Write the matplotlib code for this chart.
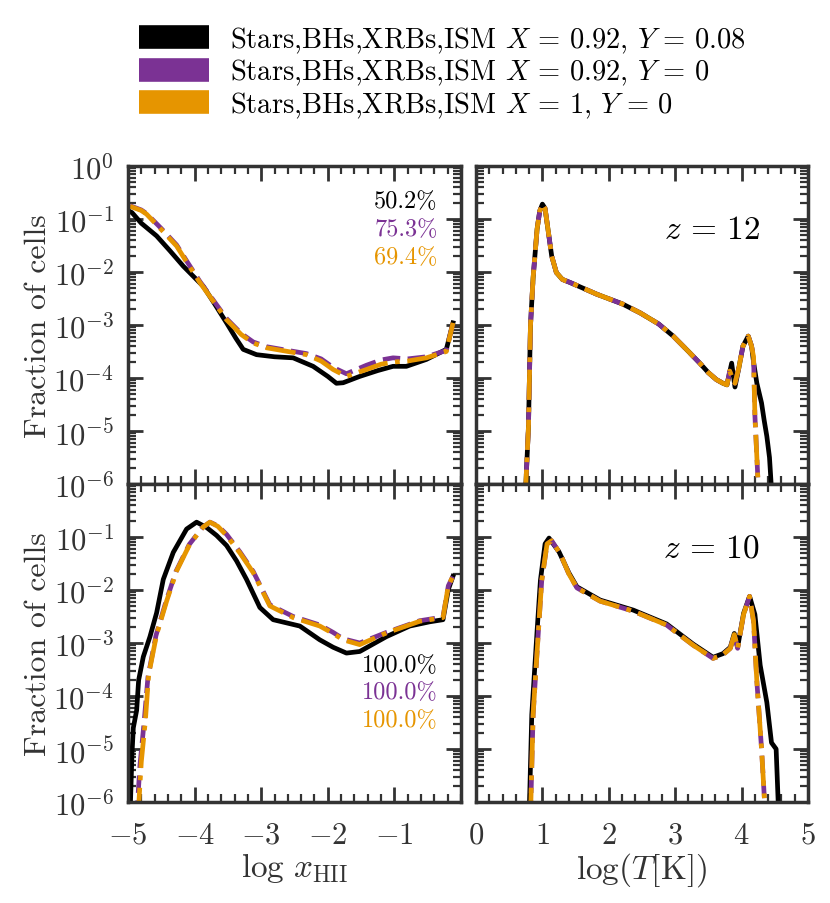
import numpy as np
import matplotlib
matplotlib.use('Agg')
import matplotlib.pyplot as plt
from matplotlib.lines import Line2D
from matplotlib.ticker import FixedLocator, MultipleLocator, LogLocator, FuncFormatter, NullFormatter

plt.rcParams['font.family'] = 'serif'
plt.rcParams['font.serif'] = ['cmr10']
plt.rcParams['mathtext.fontset'] = 'cm'
plt.rcParams['axes.unicode_minus'] = False

labels = [r'Stars,BHs,XRBs,ISM $X\,=\,0.92$, $Y\,=\,0.08$',
          r'Stars,BHs,XRBs,ISM $X\,=\,0.92$, $Y\,=\,0$',
          r'Stars,BHs,XRBs,ISM $X\,=\,1$, $Y\,=\,0$']
colors = ['black', '#7b3294', '#e69500']
styles = ['-', '--', '-.']

# log10(fraction of cells)
# z = 12, x_HII
x12_blk = [-4.97, -4.94, -4.80, -4.57, -4.37, -4.17, -3.87, -3.70, -3.52, -3.38, -3.27, -3.07, -2.80,
           -2.52, -2.22, -2.00, -1.87, -1.77, -1.52, -1.25, -1.02, -0.82, -0.52, -0.22, -0.12]
f12_blk = [-0.86, -0.88, -1.08, -1.32, -1.60, -1.89, -2.27, -2.60, -2.96, -3.25, -3.46, -3.56, -3.60,
           -3.62, -3.78, -3.97, -4.10, -4.09, -3.97, -3.86, -3.78, -3.78, -3.65, -3.46, -2.96]
x12_pur = [-4.97, -4.80, -4.72, -4.50, -4.27, -4.10, -3.92, -3.72, -3.52, -3.30, -3.12, -2.92, -2.60,
           -2.32, -2.10, -1.92, -1.72, -1.42, -1.20, -1.02, -0.80, -0.52, -0.22, -0.12]
f12_pur = [-0.75, -0.83, -0.90, -1.18, -1.49, -1.83, -2.18, -2.53, -2.88, -3.16, -3.32, -3.41, -3.48,
           -3.54, -3.64, -3.80, -3.92, -3.76, -3.66, -3.62, -3.64, -3.60, -3.48, -2.96]
x12_ora = [-4.97, -4.80, -4.72, -4.50, -4.27, -4.10, -3.92, -3.72, -3.52, -3.30, -3.12, -2.92, -2.60,
           -2.32, -2.10, -1.92, -1.72, -1.42, -1.20, -1.02, -0.80, -0.52, -0.22, -0.12]
f12_ora = [-0.76, -0.84, -0.91, -1.20, -1.51, -1.85, -2.20, -2.55, -2.90, -3.18, -3.34, -3.43, -3.50,
           -3.56, -3.68, -3.84, -3.97, -3.84, -3.74, -3.70, -3.68, -3.62, -3.50, -2.96]

# z = 10, x_HII
x10_blk = [-4.97, -4.94, -4.92, -4.87, -4.84, -4.77, -4.67, -4.57, -4.47, -4.32, -4.12, -3.97, -3.82,
           -3.67, -3.52, -3.37, -3.22, -3.02, -2.82, -2.62, -2.42, -2.12, -1.92, -1.72, -1.52, -1.32,
           -1.12, -0.77, -0.47, -0.27, -0.19, -0.12]
f10_blk = [-6.30, -5.10, -4.60, -4.27, -3.70, -3.26, -2.88, -2.43, -1.80, -1.29, -0.85, -0.72, -0.82,
           -0.97, -1.16, -1.45, -1.80, -2.33, -2.56, -2.62, -2.68, -2.94, -3.08, -3.19, -3.16, -3.02,
           -2.88, -2.68, -2.60, -2.56, -1.99, -1.74]
x10_pur = [-4.87, -4.82, -4.76, -4.70, -4.58, -4.43, -4.28, -4.08, -3.88, -3.77, -3.65, -3.52, -3.32,
           -3.12, -2.87, -2.52, -2.12, -1.92, -1.77, -1.52, -1.32, -1.12, -0.62, -0.27, -0.19, -0.12]
f10_pur = [-6.30, -5.30, -4.52, -3.64, -2.86, -2.22, -1.65, -1.14, -0.82, -0.72, -0.79, -0.95, -1.28,
           -1.65, -2.28, -2.50, -2.66, -2.80, -2.92, -3.00, -2.90, -2.80, -2.58, -2.51, -1.92, -1.74]
x10_ora = [-4.85, -4.80, -4.74, -4.69, -4.57, -4.42, -4.27, -4.07, -3.87, -3.77, -3.65, -3.52, -3.32,
           -3.12, -2.87, -2.52, -2.12, -1.92, -1.77, -1.52, -1.32, -1.12, -0.62, -0.27, -0.19, -0.12]
f10_ora = [-6.30, -5.24, -4.48, -3.60, -2.84, -2.21, -1.64, -1.13, -0.81, -0.72, -0.80, -0.97, -1.30,
           -1.67, -2.30, -2.52, -2.68, -2.82, -2.94, -3.03, -2.92, -2.81, -2.59, -2.52, -1.92, -1.74]

# z = 12, log T
t12_col = [0.74, 0.79, 0.82, 0.86, 0.92, 0.96, 1.00, 1.04, 1.07, 1.14, 1.21, 1.30, 1.42, 1.82, 2.20,
           2.47, 2.75, 2.97, 3.20, 3.37, 3.50, 3.62, 3.72, 3.78, 3.82, 3.86, 3.90, 3.96, 4.02, 4.10,
           4.15, 4.18, 4.20, 4.23, 4.26]
g12_col = [-6.30, -4.92, -3.02, -2.11, -1.19, -0.85, -0.72, -0.80, -1.07, -1.70, -2.01, -2.14, -2.20,
           -2.42, -2.60, -2.77, -2.98, -3.21, -3.50, -3.72, -3.90, -4.03, -4.10, -4.13, -3.87, -4.00,
           -4.10, -3.80, -3.40, -3.21, -3.40, -3.60, -4.70, -5.50, -6.30]
t12_blk = [0.74, 0.79, 0.82, 0.86, 0.92, 0.96, 1.00, 1.04, 1.07, 1.14, 1.21, 1.30, 1.42, 1.82, 2.20,
           2.47, 2.75, 2.97, 3.20, 3.37, 3.50, 3.62, 3.72, 3.78, 3.85, 3.90, 3.96, 4.02, 4.10, 4.15,
           4.18, 4.23, 4.30, 4.34, 4.38, 4.42, 4.46]
g12_blk = [-6.30, -4.92, -3.02, -2.11, -1.19, -0.85, -0.72, -0.80, -1.07, -1.70, -2.01, -2.14, -2.20,
           -2.42, -2.60, -2.77, -2.98, -3.21, -3.50, -3.72, -3.90, -4.03, -4.10, -4.13, -3.72, -4.17,
           -3.80, -3.40, -3.21, -3.40, -3.70, -4.10, -4.47, -4.80, -5.10, -5.50, -6.30]

# z = 10, log T
t10_col = [0.82, 0.86, 0.94, 0.99, 1.07, 1.14, 1.27, 1.40, 1.52, 1.87, 2.37, 2.87, 3.27, 3.57, 3.72,
           3.83, 3.89, 3.94, 4.03, 4.12, 4.18, 4.23, 4.30, 4.36]
g10_col = [-6.30, -4.35, -2.77, -1.82, -1.13, -1.07, -1.32, -1.70, -1.96, -2.21, -2.40, -2.66, -3.04,
           -3.29, -3.22, -3.10, -2.84, -3.10, -2.46, -2.12, -2.59, -3.73, -4.99, -6.30]
t10_blk = [0.80, 0.84, 0.92, 0.97, 1.04, 1.10, 1.25, 1.40, 1.52, 1.87, 2.37, 2.87, 3.27, 3.57, 3.72,
           3.83, 3.89, 3.94, 4.03, 4.12, 4.20, 4.28, 4.38, 4.45, 4.52, 4.56]
g10_blk = [-6.30, -4.35, -2.77, -1.82, -1.13, -1.02, -1.28, -1.68, -1.94, -2.19, -2.38, -2.64, -3.02,
           -3.27, -3.20, -3.08, -2.82, -3.08, -2.44, -2.12, -2.46, -3.42, -4.12, -4.88, -5.00, -6.30]

pct12 = ['50.2%', '75.3%', '69.4%']
pct10 = ['100.0%', '100.0%', '100.0%']

grey = '#333333'

fig = plt.figure(figsize=(8.3, 9.04), dpi=100)
axes = {
    'tl': fig.add_axes((0.1542, 0.4635, 0.4012, 0.3518)),
    'tr': fig.add_axes((0.5735, 0.4635, 0.4000, 0.3518)),
    'bl': fig.add_axes((0.1542, 0.1117, 0.4012, 0.3518)),
    'br': fig.add_axes((0.5735, 0.1117, 0.4000, 0.3518)),
}

curves = {
    'tl': [(x12_blk, f12_blk), (x12_pur, f12_pur), (x12_ora, f12_ora)],
    'bl': [(x10_blk, f10_blk), (x10_pur, f10_pur), (x10_ora, f10_ora)],
    'tr': [(t12_blk, g12_blk), (t12_col, g12_col), (t12_col, g12_col)],
    'br': [(t10_blk, g10_blk), (t10_col, g10_col), (t10_col, g10_col)],
}

for key, ax in axes.items():
    for (x, f), c, ls in zip(curves[key], colors, styles):
        ax.plot(x, 10 ** np.array(f), color=c, ls=ls, lw=3.4)
    ax.set_yscale('log')
    ax.set_ylim(1e-6, 1)
    if key[1] == 'l':
        ax.set_xlim(-5, 0)
        ax.xaxis.set_major_locator(FixedLocator([-5, -4, -3, -2, -1]))
    else:
        ax.set_xlim(0, 5)
        ax.xaxis.set_major_locator(MultipleLocator(1))
    ax.xaxis.set_minor_locator(MultipleLocator(0.2))
    ax.yaxis.set_major_locator(LogLocator(base=10, numticks=10))
    ax.yaxis.set_minor_locator(LogLocator(base=10, subs=np.arange(2, 10), numticks=10))
    ax.xaxis.set_major_formatter(FuncFormatter(lambda v, p: r'$%d$' % round(v)))
    ax.yaxis.set_major_formatter(FuncFormatter(lambda v, p: r'$10^{%d}$' % round(np.log10(v))))
    ax.yaxis.set_minor_formatter(NullFormatter())
    ax.tick_params(which='both', direction='in', top=True, right=True, colors=grey,
                   labelsize=22, labelcolor=grey)
    ax.tick_params(which='major', length=11, width=2)
    ax.tick_params(which='minor', length=5.5, width=1.6)
    ax.tick_params(axis='x', pad=14)
    ax.tick_params(axis='y', pad=10)
    for s in ax.spines.values():
        s.set_linewidth(2.5)
        s.set_color(grey)
    if key[0] == 't':
        ax.tick_params(labelbottom=False)
    if key[1] == 'r':
        ax.tick_params(labelleft=False)

axes['bl'].set_yticks([1e-6, 1e-5, 1e-4, 1e-3, 1e-2, 1e-1])
axes['bl'].set_ylim(1e-6, 1)

axes['tl'].set_ylabel('Fraction of cells', fontsize=23, color=grey, labelpad=1)
axes['bl'].set_ylabel('Fraction of cells', fontsize=23, color=grey, labelpad=1)
axes['bl'].set_xlabel(r'$\log\,x_{\rm HII}$', fontsize=24, color=grey, labelpad=1)
axes['br'].set_xlabel(r'$\log(T[{\rm K}])$', fontsize=24, color=grey, labelpad=1)

for i, (p, c) in enumerate(zip(pct12, colors)):
    axes['tl'].text(0.93, 0.89 - 0.088 * i, p, transform=axes['tl'].transAxes,
                    ha='right', va='center', color=c, fontsize=17.5)
for i, (p, c) in enumerate(zip(pct10, colors)):
    axes['bl'].text(0.93, 0.432 - 0.087 * i, p, transform=axes['bl'].transAxes,
                    ha='right', va='center', color=c, fontsize=17.5)

axes['tr'].text(0.71, 0.8, r'$z\,=\,12$', transform=axes['tr'].transAxes,
                ha='center', va='center', fontsize=24)
axes['br'].text(0.71, 0.8, r'$z\,=\,10$', transform=axes['br'].transAxes,
                ha='center', va='center', fontsize=24)

handles = [Line2D([], [], color=c, ls=ls, lw=17, solid_capstyle='butt',
                  dash_capstyle='butt') for c, ls in zip(colors, styles)]
fig.legend(handles, labels, loc='upper center', bbox_to_anchor=(0.533, 1.0),
           frameon=False, fontsize=20.5, handlelength=2.45, labelspacing=0.07,
           handletextpad=0.75)

fig.savefig('out.png', dpi=100)
